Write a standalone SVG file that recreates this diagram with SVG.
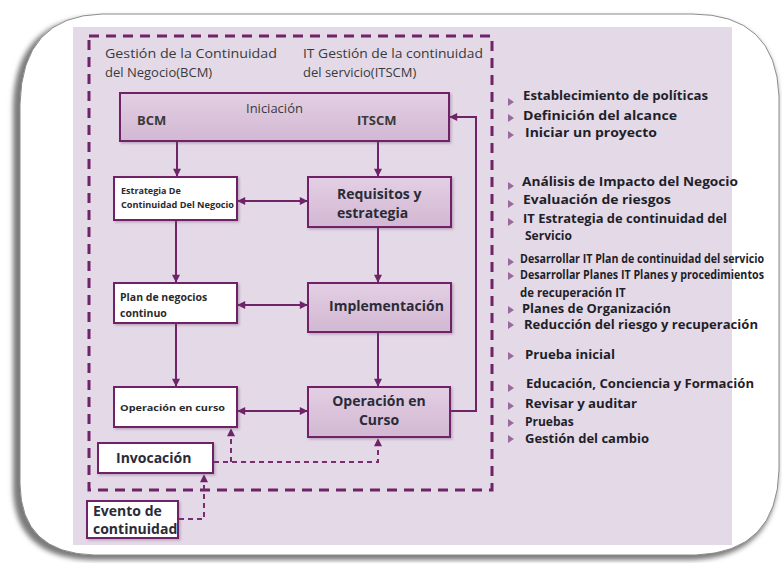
<svg xmlns="http://www.w3.org/2000/svg" width="782" height="563" viewBox="0 0 782 563">
<defs>
<linearGradient id="pg" x1="0" y1="0" x2="0" y2="1">
<stop offset="0" stop-color="#e3cfe3"/>
<stop offset="1" stop-color="#d2b8d3"/>
</linearGradient>
<filter id="fsh" x="-10%" y="-10%" width="120%" height="120%">
<feGaussianBlur stdDeviation="2.5"/>
</filter>
<filter id="bsh" x="-10%" y="-10%" width="130%" height="130%">
<feDropShadow dx="1.5" dy="1.5" stdDeviation="1" flood-color="#6a4a6a" flood-opacity="0.35"/>
</filter>
<marker id="ah" viewBox="0 0 10 10" refX="9" refY="5" markerWidth="9" markerHeight="8" markerUnits="userSpaceOnUse" orient="auto-start-reverse">
<path d="M0,0 L10,5 L0,10 Z" fill="#6f2368"/>
</marker>
</defs>
<style>
.wbox{fill:#ffffff;stroke:#6f2368;stroke-width:2;filter:url(#bsh)}
.pbox{fill:url(#pg);stroke:#6f2368;stroke-width:2;filter:url(#bsh)}
.conn{fill:none;stroke:#6f2368;stroke-width:2}
.dot{fill:none;stroke:#7a2c70;stroke-width:2;stroke-dasharray:5,4}
.hdr{font-family:"Open Sans","Liberation Sans",sans-serif;font-size:13px;fill:#3a3a3a}
.big{font-family:"Open Sans","Liberation Sans",sans-serif;font-size:14px;font-weight:bold;fill:#2b2b38}
.sm{font-family:"Open Sans","Liberation Sans",sans-serif;font-size:9px;font-weight:bold;fill:#2b2b2b}
.mid{font-family:"Open Sans","Liberation Sans",sans-serif;font-size:10.5px;font-weight:bold;fill:#2b2b2b}
.lst{font-family:"Open Sans","Liberation Sans",sans-serif;font-size:12px;font-weight:bold;fill:#1f1f2a}
.bul{fill:#9a6a9a}
</style>
<rect width="782" height="563" fill="#ffffff"/>
<!-- outer frame -->
<path d="M98,17 H692 Q776,17 778,98 V474 Q776,556 694,560 H92 Q14,558 13,488 V106 Q15,19 98,17 Z" fill="#7a7a7a" filter="url(#fsh)"/>
<path d="M102,14 H692 Q776,14 779,96 V470 Q777,552 696,555 H94 Q21,553 20,484 V104 Q22,16 102,14 Z" fill="#ffffff" stroke="#8c8c8c" stroke-width="1"/>
<rect x="73" y="27" width="659" height="518" fill="#e4d9e7"/>
<!-- dashed boundary -->
<rect x="89" y="36" width="403" height="454" fill="none" stroke="#6f2368" stroke-width="3" stroke-dasharray="10,7"/>
<!-- headers -->
<text class="hdr" x="105" y="58" textLength="172" lengthAdjust="spacingAndGlyphs">Gestión de la Continuidad</text>
<text class="hdr" x="105" y="77">del Negocio(BCM)</text>
<text class="hdr" x="303" y="58" textLength="180" lengthAdjust="spacingAndGlyphs">IT Gestión de la continuidad</text>
<text class="hdr" x="303" y="77">del servicio(ITSCM)</text>
<!-- connectors -->
<g id="connectors">
<path class="conn" d="M177,141 V176" marker-end="url(#ah)"/>
<path class="conn" d="M378,141 V176" marker-end="url(#ah)"/>
<path class="conn" d="M238,201 H307" marker-start="url(#ah)" marker-end="url(#ah)"/>
<path class="conn" d="M176,220 V282" marker-end="url(#ah)"/>
<path class="conn" d="M378,227 V282" marker-end="url(#ah)"/>
<path class="conn" d="M238,305 H307" marker-start="url(#ah)" marker-end="url(#ah)"/>
<path class="conn" d="M176,323 V386" marker-end="url(#ah)"/>
<path class="conn" d="M378,332 V386" marker-end="url(#ah)"/>
<path class="conn" d="M238,411 H307" marker-start="url(#ah)" marker-end="url(#ah)"/>
<path class="conn" d="M451,411 H476 V117 H450" marker-end="url(#ah)"/>
<path class="dot" d="M214,462 H378 V439" marker-end="url(#ah)"/>
<path class="dot" d="M231,462 V429" marker-end="url(#ah)"/>
<path class="dot" d="M179,519 H204 V475" marker-end="url(#ah)"/>
</g>
<!-- nodes -->
<g id="iniciacion">
<rect class="pbox" x="120" y="93" width="329" height="48"/>
<text class="hdr" x="246" y="113" font-size="14">Iniciación</text>
<text class="hdr" x="137" y="125" font-size="13" font-weight="bold" fill="#333">BCM</text>
<text class="hdr" x="357" y="125" font-size="13" font-weight="bold" fill="#333">ITSCM</text>
</g>
<g id="estrategia">
<rect class="wbox" x="114" y="177" width="123" height="43"/>
<text class="sm" x="121" y="194">Estrategia De</text>
<text class="sm" x="121" y="208" textLength="113" lengthAdjust="spacingAndGlyphs">Continuidad Del Negocio</text>
</g>
<g id="requisitos">
<rect class="pbox" x="308" y="177" width="143" height="50"/>
<text class="big" x="337" y="199">Requisitos y</text>
<text class="big" x="337" y="218">estrategia</text>
</g>
<g id="plan">
<rect class="wbox" x="114" y="283" width="123" height="40"/>
<text class="mid" x="120" y="301">Plan de negocios</text>
<text class="mid" x="120" y="317">continuo</text>
</g>
<g id="implementacion">
<rect class="pbox" x="308" y="283" width="143" height="49"/>
<text class="big" x="329" y="311" font-size="15">Implementación</text>
</g>
<g id="operacion-bcm">
<rect class="wbox" x="114" y="387" width="123" height="40"/>
<text class="sm" x="120" y="411" textLength="105" lengthAdjust="spacingAndGlyphs">Operación en curso</text>
</g>
<g id="operacion-itscm">
<rect class="pbox" x="308" y="387" width="142" height="50"/>
<text class="big" x="379" y="406" text-anchor="middle">Operación en</text>
<text class="big" x="379" y="425" text-anchor="middle">Curso</text>
</g>
<g id="invocacion">
<rect class="wbox" x="98" y="443" width="115" height="30"/>
<text class="big" x="116" y="463">Invocación</text>
</g>
<g id="evento">
<rect class="wbox" x="87" y="501" width="91" height="37"/>
<text class="big" x="93" y="516" font-size="13">Evento de</text>
<text class="big" x="93" y="534" font-size="13">continuidad</text>
</g>
<!-- right list -->
<g id="lista">
<path class="bul" d="M508,98 L514,102 L508,106 Z"/>
<text class="lst" x="523" y="100" textLength="185" lengthAdjust="spacingAndGlyphs">Establecimiento de políticas</text>
<path class="bul" d="M508,114 L514,118 L508,122 Z"/>
<text class="lst" x="523" y="120" textLength="154" lengthAdjust="spacingAndGlyphs">Definición del alcance</text>
<path class="bul" d="M508,131 L514,135 L508,139 Z"/>
<text class="lst" x="525" y="137" textLength="132" lengthAdjust="spacingAndGlyphs">Iniciar un proyecto</text>
<path class="bul" d="M508,182 L514,186 L508,190 Z"/>
<text class="lst" x="522" y="186" textLength="216" lengthAdjust="spacingAndGlyphs">Análisis de Impacto del Negocio</text>
<path class="bul" d="M508,200 L514,204 L508,208 Z"/>
<text class="lst" x="523" y="204" textLength="148" lengthAdjust="spacingAndGlyphs">Evaluación de riesgos</text>
<path class="bul" d="M508,218 L514,222 L508,226 Z"/>
<text class="lst" x="523" y="223" textLength="204" lengthAdjust="spacingAndGlyphs">IT Estrategia de continuidad del</text>
<text class="lst" x="525" y="240">Servicio</text>
<path class="bul" d="M508,258 L514,262 L508,266 Z"/>
<text class="lst" transform="translate(520,263) scale(0.8,1)" x="0" y="0" font-size="11" textLength="305" lengthAdjust="spacingAndGlyphs">Desarrollar IT Plan de continuidad del servicio</text>
<path class="bul" d="M508,272 L514,276 L508,280 Z"/>
<text class="lst" transform="translate(520,279) scale(0.8,1)" x="0" y="0" font-size="11" textLength="305" lengthAdjust="spacingAndGlyphs">Desarrollar Planes IT Planes y procedimientos</text>
<text class="lst" transform="translate(520,297) scale(0.8,1)" x="0" y="0" font-size="11" textLength="132" lengthAdjust="spacingAndGlyphs">de recuperación IT</text>
<path class="bul" d="M508,306 L514,310 L508,314 Z"/>
<text class="lst" x="522" y="313" font-size="11.5" textLength="149" lengthAdjust="spacingAndGlyphs">Planes de Organización</text>
<path class="bul" d="M508,321 L514,325 L508,329 Z"/>
<text class="lst" x="524" y="329" font-size="11.5" textLength="234" lengthAdjust="spacingAndGlyphs">Reducción del riesgo y recuperación</text>
<path class="bul" d="M508,352 L514,356 L508,360 Z"/>
<text class="lst" x="525" y="359" textLength="90" lengthAdjust="spacingAndGlyphs">Prueba inicial</text>
<path class="bul" d="M508,384 L514,388 L508,392 Z"/>
<text class="lst" x="526" y="388" textLength="228" lengthAdjust="spacingAndGlyphs">Educación, Conciencia y Formación</text>
<path class="bul" d="M508,402 L514,406 L508,410 Z"/>
<text class="lst" x="525" y="408" textLength="112" lengthAdjust="spacingAndGlyphs">Revisar y auditar</text>
<path class="bul" d="M508,419 L514,423 L508,427 Z"/>
<text class="lst" x="525" y="426">Pruebas</text>
<path class="bul" d="M508,435 L514,439 L508,443 Z"/>
<text class="lst" x="525" y="443" textLength="124" lengthAdjust="spacingAndGlyphs">Gestión del cambio</text>
</g>
</svg>
